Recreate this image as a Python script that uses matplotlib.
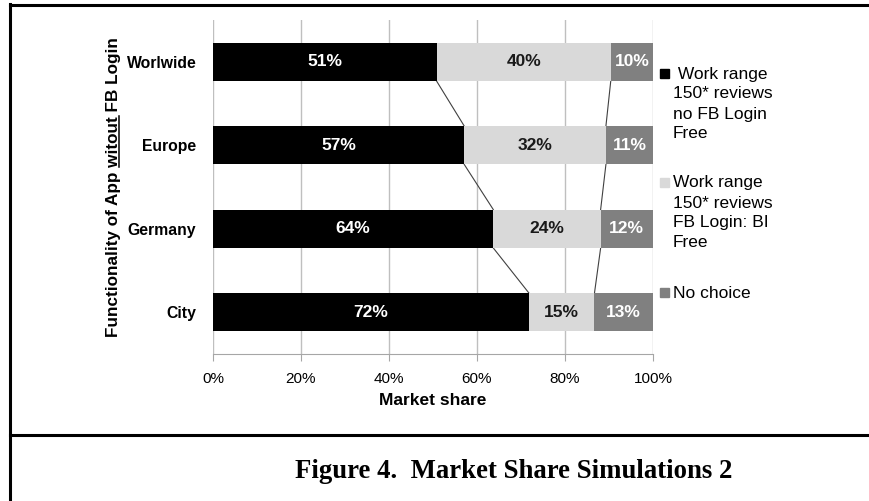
import numpy as np
import matplotlib.pyplot as plt
from matplotlib.lines import Line2D
from matplotlib.patches import Rectangle

plt.rcParams['font.family'] = ['Liberation Sans', 'DejaVu Sans']

regions = ["Worlwide", "Europe", "Germany", "City"]
no_fb_login = [50.8, 57.1, 63.7, 71.8]
fb_login_bi = [39.6, 32.2, 24.4, 14.9]
no_choice = [9.6, 10.7, 11.9, 13.3]
series_names = [" Work range\n150* reviews\nno FB Login\nFree",
                "Work range\n150* reviews\nFB Login: BI\nFree",
                "No choice"]
colors = ["#000000", "#d9d9d9", "#808080"]
text_colors = ["white", "#1a1a1a", "white"]

fig = plt.figure(figsize=(8.7, 5.01), dpi=100)
ax = fig.add_axes([213 / 870, 1 - 354 / 501, 440 / 870, 334 / 501])

y = np.arange(len(regions))
bar_h = 0.46
data = [no_fb_login, fb_login_bi, no_choice]
left = np.zeros(len(regions))
for vals, c, tc in zip(data, colors, text_colors):
    vals = np.array(vals)
    ax.barh(y, vals, left=left, height=bar_h, color=c, zorder=3)
    for yi, l, v in zip(y, left, vals):
        ax.text(l + v / 2, yi, f"{round(v)}%", ha='center', va='center',
                color=tc, fontsize=12.5, fontweight='bold', zorder=4)
    left = left + vals

# series lines between bars
cum1 = np.array(no_fb_login)
cum2 = cum1 + np.array(fb_login_bi)
for cum in (cum1, cum2):
    for i in range(len(regions) - 1):
        ax.plot([cum[i], cum[i + 1]], [y[i] + bar_h / 2, y[i + 1] - bar_h / 2],
                color='#404040', lw=0.8, zorder=2)

ax.set_xlim(0, 100)
ax.set_ylim(3.5, -0.5)
ax.set_xticks(np.arange(0, 101, 20))
ax.set_xticklabels([f"{t}%" for t in range(0, 101, 20)], fontsize=11)
ax.set_yticks(y)
ax.set_yticklabels(regions, fontsize=11.3, fontweight='bold')
ax.tick_params(axis='y', length=0, pad=12)
ax.tick_params(axis='x', length=5, color='#a6a6a6', pad=8)
ax.grid(axis='x', color='#bfbfbf', lw=1, zorder=0)
for s in ['top', 'right', 'left']:
    ax.spines[s].set_visible(False)
ax.spines['bottom'].set_color('#a6a6a6')
ax.set_xlabel("Market share", fontsize=12.5, fontweight='bold', labelpad=5)
ylab = "Functionality of App witout FB Login"
ylab_size = 12.3
ax.set_ylabel(ylab, fontsize=ylab_size, fontweight='bold', labelpad=4)

# legend drawn by hand so the marker sits at the first line
entry_tops = [74, 183, 293]
for name, c, ty in zip(series_names, colors, entry_tops):
    fig.add_artist(Rectangle((660 / 870, 1 - (ty + 4) / 501), 9 / 870, 9 / 501,
                             transform=fig.transFigure, color=c))
    for k, line in enumerate(name.split("\n")):
        fig.text(673 / 870, 1 - (ty + 20 * k) / 501, line, fontsize=12.5,
                 va='center', ha='left')

# frame around chart and caption (open on right and bottom)
for xs, ys in [([10, 10], [4, 501]), ([10, 870], [5, 5]),
               ([10, 870], [435, 435])]:
    fig.add_artist(Line2D([v / 870 for v in xs], [1 - v / 501 for v in ys],
                          color='black', lw=2.2, transform=fig.transFigure))

fig.text(514 / 870, 1 - 471 / 501, "Figure 4.  Market Share Simulations 2",
         family='Liberation Serif', fontweight='bold', fontsize=19.3,
         ha='center', va='center')

# underline "witout" in the rotated y label
fig.canvas.draw()
r = fig.canvas.get_renderer()
bb = ax.yaxis.label.get_window_extent(r)


def text_w(s):
    t = fig.text(0, 0, s, fontsize=ylab_size, fontweight='bold')
    w = t.get_window_extent(r).width
    t.remove()
    return w


w_full = text_w(ylab)
w_upto = text_w("Functionality of App witout")
w_word = text_w("witout")
scale = bb.height / w_full
y_end = bb.y0 + w_upto * scale
y_start = y_end - w_word * scale
ux = bb.x1 - 2.0
fig.add_artist(Line2D([ux / 870, ux / 870], [y_start / 501, y_end / 501],
                      color='black', lw=1.1, transform=fig.transFigure))

fig.savefig("out.png", dpi=100)
